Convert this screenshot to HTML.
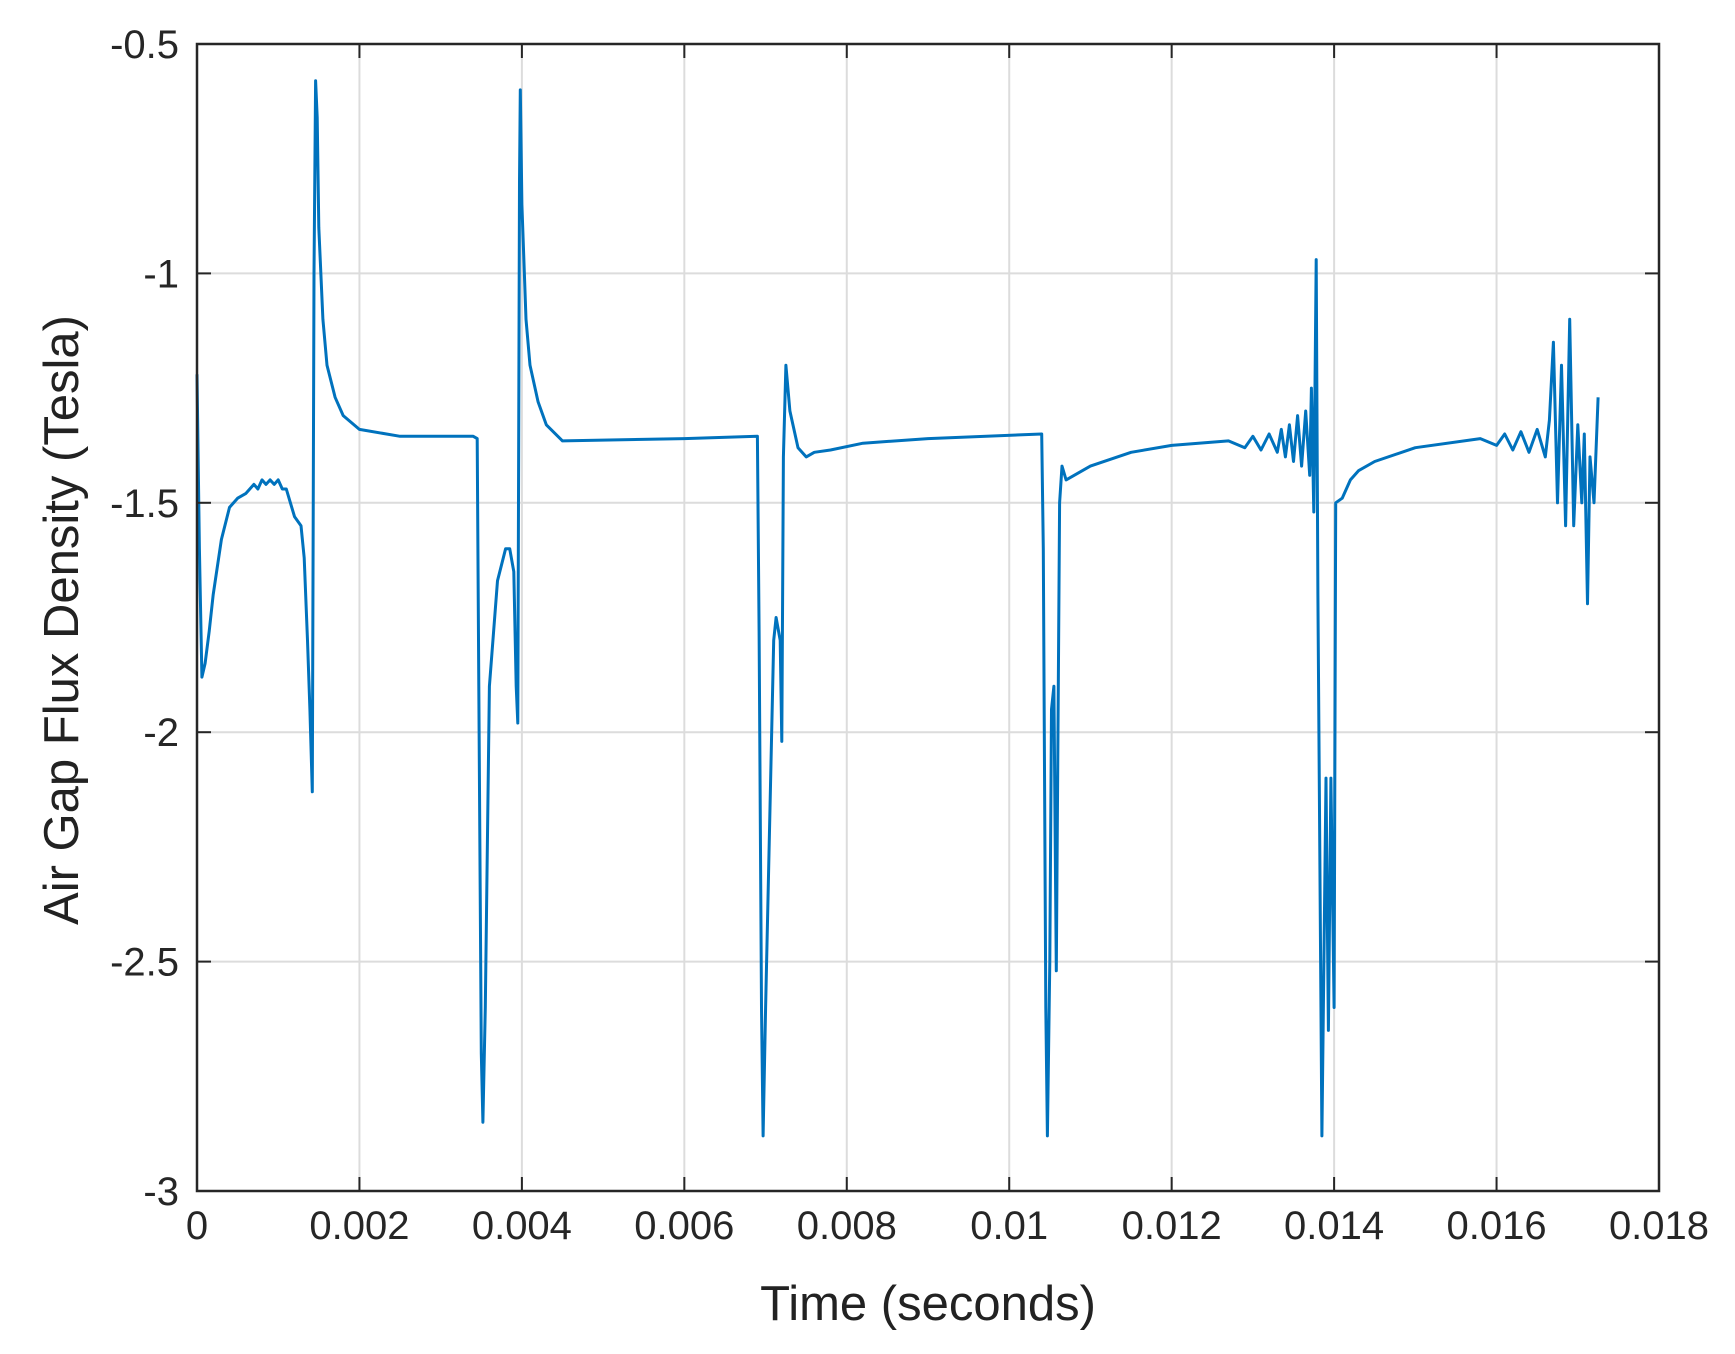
<!DOCTYPE html>
<html><head><meta charset="utf-8">
<style>
html,body{margin:0;padding:0;background:#fff;}
svg{display:block;font-family:"Liberation Sans",Arial,sans-serif;}
</style></head>
<body>
<svg id="chart" width="1735" height="1354" viewBox="0 0 1735 1354" xmlns="http://www.w3.org/2000/svg">
<rect x="0" y="0" width="1735" height="1354" fill="#fff"/>
<g id="grid"></g>
<g id="series"></g>
<g id="axes"></g>
<text x="928" y="1320" font-size="49" text-anchor="middle" fill="#222">Time (seconds)</text>
<text transform="translate(78,620) rotate(-90)" font-size="49" text-anchor="middle" fill="#222">Air Gap Flux Density (Tesla)</text>
</svg>
<script>
const xTicks=[0,0.002,0.004,0.006,0.008,0.01,0.012,0.014,0.016,0.018];
const xTickLabels=["0","0.002","0.004","0.006","0.008","0.01","0.012","0.014","0.016","0.018"];
const yTicks=[-3,-2.5,-2,-1.5,-1,-0.5];
const yTickLabels=["-3","-2.5","-2","-1.5","-1","-0.5"];
const times=[0,0.00003,0.00006,0.0001,0.00015,0.0002,0.0003,0.0004,0.0005,0.0006,0.0007,0.00075,0.0008,0.00085,0.0009,0.00095,0.001,0.00105,0.0011,0.00115,0.0012,0.00128,0.00132,0.00136,0.00139,0.00142,0.00144,0.00146,0.00148,0.0015,0.00155,0.0016,0.0017,0.0018,0.002,0.0025,0.0034,0.00345,0.00347,0.0035,0.00352,0.00355,0.0036,0.0037,0.0038,0.00385,0.0039,0.00393,0.00395,0.00397,0.00398,0.004,0.00405,0.0041,0.0042,0.0043,0.0045,0.006,0.0069,0.00692,0.00695,0.00697,0.007,0.0071,0.00713,0.00718,0.0072,0.00722,0.00725,0.0073,0.0074,0.0075,0.0076,0.0078,0.0082,0.009,0.0104,0.01042,0.01045,0.01047,0.0105,0.01052,0.01055,0.01058,0.01062,0.01065,0.0107,0.0108,0.011,0.0115,
0.012,0.0127,0.0129,0.013,0.0131,0.0132,0.0133,0.01335,0.0134,0.01345,0.0135,0.01355,0.0136,0.01365,0.0137,0.01372,0.01375,0.01378,0.0138,
0.01385,0.0139,0.01393,0.01396,0.014,0.01402,0.0141,0.0142,0.0143,0.0145,
0.015,0.0158,0.016,0.0161,0.0162,0.0163,0.0164,0.0165,0.0166,
0.01665,0.0167,0.01675,0.0168,0.01685,0.0169,0.01695,0.017,0.01705,0.01708,0.01712,0.01715,0.0172,0.01725];
const values=[-1.22,-1.6,-1.88,-1.85,-1.78,-1.7,-1.58,-1.51,-1.49,-1.48,-1.46,-1.47,-1.45,-1.46,-1.45,-1.46,-1.45,-1.47,-1.47,-1.5,-1.53,-1.55,-1.62,-1.8,-1.95,-2.13,-1.0,-0.58,-0.66,-0.9,-1.1,-1.2,-1.27,-1.31,-1.34,-1.355,-1.355,-1.36,-1.9,-2.7,-2.85,-2.6,-1.9,-1.67,-1.6,-1.6,-1.65,-1.9,-1.98,-0.8,-0.6,-0.85,-1.1,-1.2,-1.28,-1.33,-1.365,-1.36,-1.355,-1.78,-2.6,-2.88,-2.6,-1.8,-1.75,-1.8,-2.02,-1.4,-1.2,-1.3,-1.38,-1.4,-1.39,-1.385,-1.37,-1.36,-1.35,-1.6,-2.6,-2.88,-2.5,-1.95,-1.9,-2.52,-1.5,-1.42,-1.45,-1.44,-1.42,-1.39,
-1.375,-1.365,-1.38,-1.355,-1.385,-1.35,-1.39,-1.34,-1.4,-1.33,-1.41,-1.31,-1.42,-1.3,-1.44,-1.25,-1.52,-0.97,-1.7,
-2.88,-2.1,-2.65,-2.1,-2.6,-1.5,-1.49,-1.45,-1.43,-1.41,
-1.38,-1.36,-1.375,-1.35,-1.385,-1.345,-1.39,-1.34,-1.4,
-1.32,-1.15,-1.5,-1.2,-1.55,-1.1,-1.55,-1.33,-1.5,-1.35,-1.72,-1.4,-1.5,-1.27];
const L=197,R=1659,T=44,B=1191;
const xs=t=>L+(t-0)/(0.018)*(R-L);
const ys=v=>T+(-0.5-v)/2.5*(B-T);
const NS="http://www.w3.org/2000/svg";
const grid=document.getElementById('grid'),axes=document.getElementById('axes'),ser=document.getElementById('series');
function mk(tag,attrs,parent){const e=document.createElementNS(NS,tag);for(const k in attrs)e.setAttribute(k,attrs[k]);parent.appendChild(e);return e;}
xTicks.forEach((t,i)=>{
  const x=xs(t);
  if(i>0&&i<xTicks.length-1){const g=mk('line',{x1:x,x2:x,y1:T,y2:B,stroke:'#dcdcdc','stroke-width':2},grid);
  
  }
  mk('line',{x1:x,x2:x,y1:B,y2:B-14,stroke:'#262626','stroke-width':2},axes);
  mk('line',{x1:x,x2:x,y1:T,y2:T+14,stroke:'#262626','stroke-width':2},axes);
  const tx=mk('text',{x:x,y:B+48,'font-size':40,'text-anchor':'middle',fill:'#262626'},axes);
  tx.textContent=xTickLabels[i];
  
  
});
yTicks.forEach((v,i)=>{
  const y=ys(v);
  if(i>0&&i<yTicks.length-1){const g=mk('line',{x1:L,x2:R,y1:y,y2:y,stroke:'#dcdcdc','stroke-width':2},grid);
  
  }
  mk('line',{x1:L,x2:L+14,y1:y,y2:y,stroke:'#262626','stroke-width':2},axes);
  mk('line',{x1:R,x2:R-14,y1:y,y2:y,stroke:'#262626','stroke-width':2},axes);
  const tx=mk('text',{x:L-18,y:y+14,'font-size':40,'text-anchor':'end',fill:'#262626'},axes);
  tx.textContent=yTickLabels[i];
  
  
});
const box=mk('rect',{x:L,y:T,width:R-L,height:B-T,fill:'none',stroke:'#262626','stroke-width':2.5},axes);


let d=times.map((t,i)=>(i?'L':'M')+xs(t).toFixed(1)+','+ys(values[i]).toFixed(1)).join(' ');
const p=mk('path',{d:d,fill:'none',stroke:'#0072bd','stroke-width':3,'stroke-linejoin':'round'},ser);


</script>
</body></html>
